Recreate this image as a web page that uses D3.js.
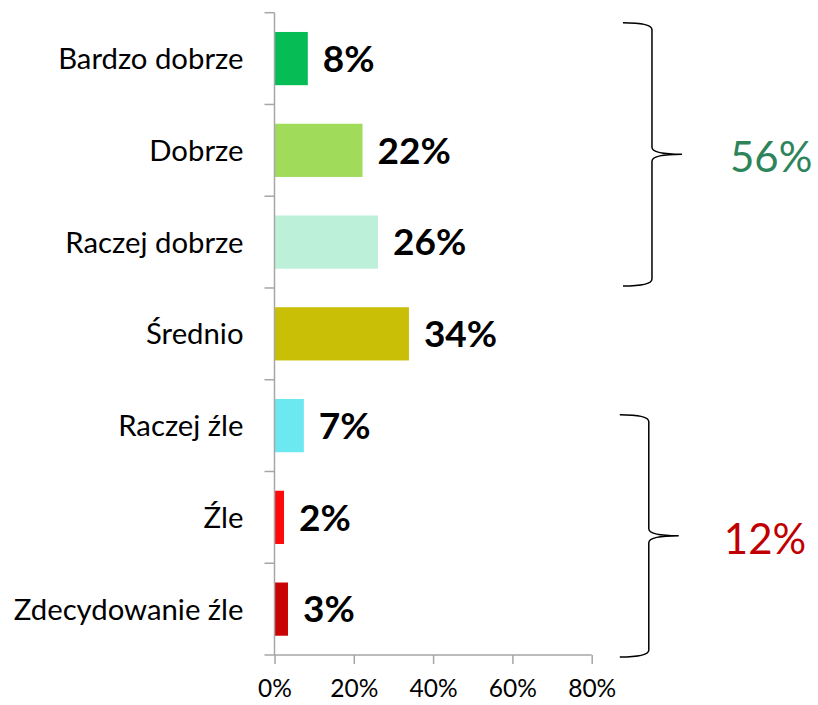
<!DOCTYPE html>
<html><head><meta charset="utf-8">
<script src="https://cdn.jsdelivr.net/npm/d3@7"></script>
<style>html,body{margin:0;padding:0;background:#fff;}svg{display:block;}</style>
</head><body>
<svg id="chart" width="818" height="705"></svg>
<script>
const categories = ["Bardzo dobrze","Dobrze","Raczej dobrze","Średnio","Raczej źle","Źle","Zdecydowanie źle"];
const values = [8.4, 22.2, 26.1, 33.9, 7.4, 2.4, 3.4];
const barColors = ["#06bc55","#a0dc5a","#bdf0d9","#c9bf06","#6be8f0","#ff0a0a","#c80404"];
const xTicks = [0, 20, 40, 60, 80];
const groups = [
  {from: 0, to: 2, label: "56%", color: "#2e845a"},
  {from: 4, to: 6, label: "12%", color: "#c00000"}
];

const svg = d3.select("#chart");
const pLeft = 274.5, pRight = 591.7, pTop = 12.7, pBottom = 655;
const x = d3.scaleLinear().domain([0, 80]).range([pLeft, pRight]);
const y = d3.scaleBand().domain(categories).range([pTop, pBottom]).paddingInner(0.42).paddingOuter(0.21);
const band = (pBottom - pTop) / categories.length;
const axisColor = "#a6a6a6";

// bars
svg.selectAll("rect.bar").data(values).join("rect")
  .attr("class","bar")
  .attr("x", x(0))
  .attr("y", (d,i) => y(categories[i]))
  .attr("width", d => x(d) - x(0))
  .attr("height", y.bandwidth())
  .attr("fill", (d,i) => barColors[i]);

// value labels
svg.selectAll("text.val").data(values).join("text")
  .attr("class","val")
  .attr("x", d => x(d) + 15)
  .attr("y", (d,i) => y(categories[i]) + y.bandwidth()/2)
  .attr("dy", "0.36em")
  .attr("font-family", "Lato")
  .attr("font-weight", "bold")
  .attr("font-size", 37)
  .attr("fill", "#000")
  .text(d => Math.round(d) + "%");

// left axis line and boundary ticks
svg.append("line").attr("x1", pLeft).attr("x2", pLeft).attr("y1", pTop).attr("y2", pBottom)
  .attr("stroke", axisColor).attr("stroke-width", 1.5);
const bounds = d3.range(categories.length + 1).map(i => pTop + i * band);
svg.selectAll("line.ytick").data(bounds.slice(0, -1)).join("line")
  .attr("class","ytick")
  .attr("x1", pLeft - 10).attr("x2", pLeft)
  .attr("y1", d => d).attr("y2", d => d)
  .attr("stroke", axisColor).attr("stroke-width", 1.5);

// category labels
svg.selectAll("text.cat").data(categories).join("text")
  .attr("class","cat")
  .attr("x", pLeft - 31)
  .attr("y", d => y(d) + y.bandwidth()/2)
  .attr("dy", "0.36em")
  .attr("text-anchor", "end")
  .attr("font-family", "Lato")
  .attr("font-size", 29.3)
  .attr("fill", "#000")
  .text(d => d);

// bottom axis
const xAxis = d3.axisBottom(x).tickValues(xTicks).tickFormat(d => d + "%").tickSize(9).tickPadding(16).tickSizeOuter(0);
const gx = svg.append("g").attr("transform", `translate(0,${pBottom})`).call(xAxis);
gx.select(".domain").remove();
gx.selectAll(".tick line").attr("stroke", axisColor).attr("stroke-width", 1.5);
gx.selectAll(".tick text").attr("font-family", "Lato").attr("font-size", 24.5).attr("fill", "#000");
svg.append("line").attr("x1", pLeft - 10).attr("x2", pRight).attr("y1", pBottom).attr("y2", pBottom)
  .attr("stroke", axisColor).attr("stroke-width", 1.5);

// brackets
const tipW = 30, armW = 29, r = 7;
const bracketDefs = [
  {g: groups[0], y0: pTop + groups[0].from * band + 10, y1: pTop + (groups[0].to + 1) * band - 2, bx: x(95.2), gap: 48},
  {g: groups[1], y0: pTop + groups[1].from * band + 35, y1: pTop + (groups[1].to + 1) * band + 2, bx: x(94.4), gap: 45}
];
bracketDefs.forEach(b => {
  const ym = (b.y0 + b.y1) / 2;
  const p = d3.path();
  p.moveTo(b.bx - armW, b.y0);
  p.quadraticCurveTo(b.bx, b.y0, b.bx, b.y0 + r);
  p.lineTo(b.bx, ym - r);
  p.quadraticCurveTo(b.bx, ym, b.bx + tipW, ym);
  p.quadraticCurveTo(b.bx, ym, b.bx, ym + r);
  p.lineTo(b.bx, b.y1 - r);
  p.quadraticCurveTo(b.bx, b.y1, b.bx - armW, b.y1);
  svg.append("path").attr("d", p.toString()).attr("fill", "none")
    .attr("stroke", "#000").attr("stroke-width", 1.5);
  svg.append("text")
    .attr("x", b.bx + tipW + b.gap)
    .attr("y", ym + 3)
    .attr("dy", "0.36em")
    .attr("font-family", "Lato")
    .attr("font-size", 42)
    .attr("fill", b.g.color)
    .text(b.g.label);
});
</script>
</body></html>
